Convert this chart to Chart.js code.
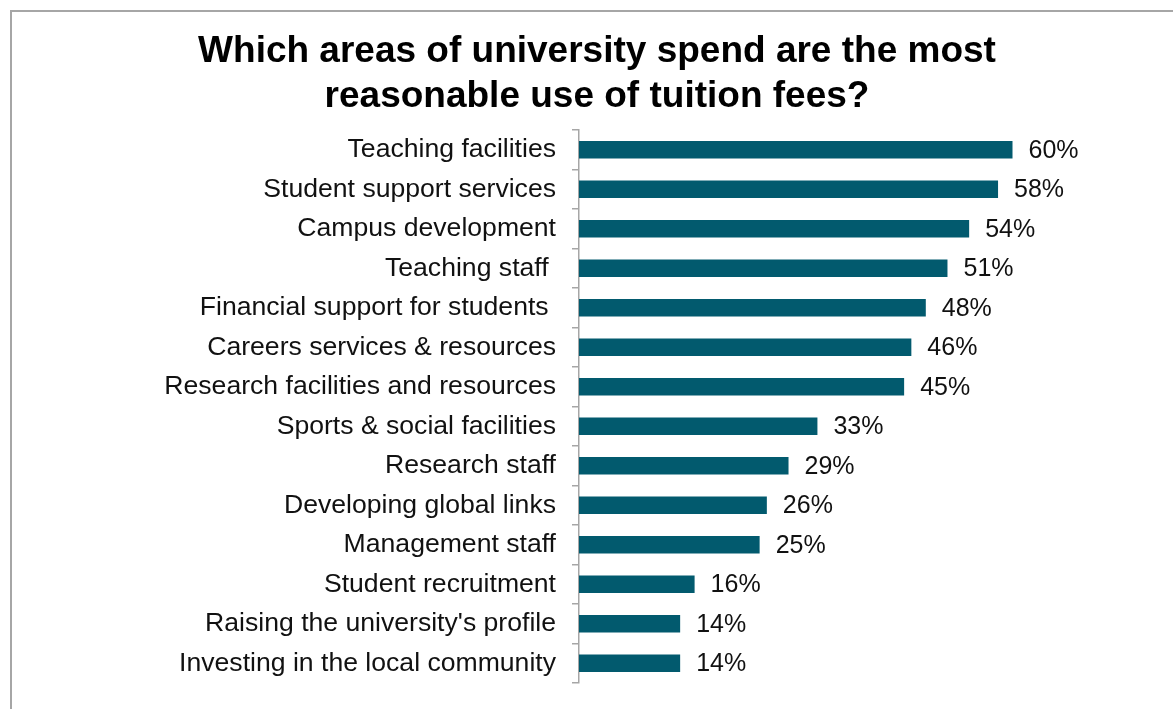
<!DOCTYPE html>
<html>
<head>
<meta charset="utf-8">
<script src="https://cdn.jsdelivr.net/npm/chart.js@4"></script>
<style>
  html, body { margin: 0; padding: 0; background: #fff; overflow: hidden; }
  #frame {
    position: absolute; left: 10px; top: 10px;
    width: 1163px; height: 699px;
    border-left: 2px solid #a6a6a6; border-top: 2px solid #a6a6a6;
  }
  #chart { display: block; }
</style>
</head>
<body>
<div id="frame"><canvas id="chart" width="1161" height="697"></canvas></div>
<script>
const categories = [
    "Teaching facilities",
    "Student support services",
    "Campus development",
    "Teaching staff ",
    "Financial support for students ",
    "Careers services & resources",
    "Research facilities and resources",
    "Sports & social facilities",
    "Research staff",
    "Developing global links",
    "Management staff",
    "Student recruitment",
    "Raising the university's profile",
    "Investing in the local community"
];
const shares = [60, 58, 54, 51, 48, 46, 45, 33, 29, 26, 25, 16, 14, 14];
const titleLines = [
    "Which areas of university spend are the most",
    "reasonable use of tuition fees?"
];

const FONT = "'Liberation Sans', Arial, sans-serif";

// writes "NN%" just past the end of each bar
const valueLabels = {
    id: "valueLabels",
    afterDatasetsDraw(chart) {
        const ctx = chart.ctx;
        const meta = chart.getDatasetMeta(0);
        ctx.save();
        ctx.font = "25px " + FONT;
        ctx.fillStyle = "#111";
        ctx.textAlign = "left";
        ctx.textBaseline = "middle";
        meta.data.forEach(function(bar, i) {
            ctx.fillText(shares[i] + "%", bar.x + 16, bar.y + 1);
        });
        ctx.restore();
    }
};

new Chart(document.getElementById("chart"), {
    type: "bar",
    data: {
        labels: categories,
        datasets: [{
            data: shares,
            backgroundColor: "#025a6e",
            borderWidth: 0,
            categoryPercentage: 1,
            barPercentage: 0.445
        }]
    },
    options: {
        indexAxis: "y",
        responsive: false,
        animation: false,
        layout: { padding: { left: 25, right: 16, top: 0, bottom: 26 } },
        plugins: {
            legend: { display: false },
            tooltip: { enabled: false },
            title: {
                display: true,
                text: titleLines,
                color: "#000",
                font: { family: FONT, size: 37, weight: "bold", lineHeight: 1.2 },
                padding: { top: 18, bottom: 11.2 }
            }
        },
        scales: {
            x: {
                display: false,
                min: 0,
                max: 80
            },
            y: {
                afterFit(scale) {
                    // fixed label column, no extra room above/below the bars
                    scale.width = 542;
                    scale.paddingTop = 0;
                    scale.paddingBottom = 0;
                },
                grid: {
                    drawOnChartArea: false,
                    drawTicks: true,
                    tickLength: 7,
                    color: "#a6a6a6",
                    lineWidth: 1.5
                },
                border: { display: true, color: "#a6a6a6", width: 1.5 },
                ticks: {
                    color: "#111",
                    padding: 16,
                    font: { family: FONT, size: 26.6 }
                }
            }
        }
    },
    plugins: [valueLabels]
});
</script>
</body>
</html>
